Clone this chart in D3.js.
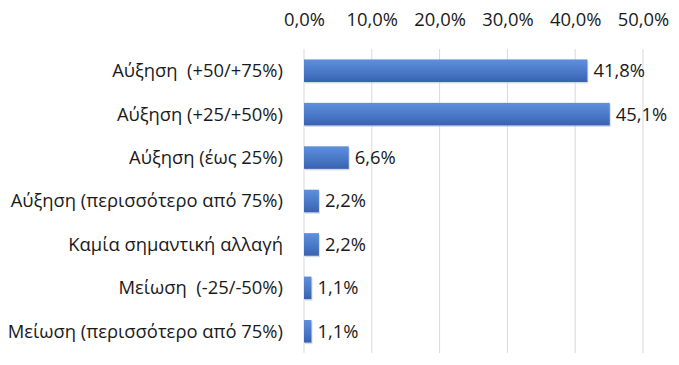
<!DOCTYPE html>
<html>
<head>
<meta charset="utf-8">
<script src="https://cdn.jsdelivr.net/npm/d3@7"></script>
<style>
    body { margin: 0; background: #fff; }
    text { font-family: "Open Sans", "Noto Sans", sans-serif; fill: #1a1a1a; white-space: pre; }
</style>
</head>
<body>
<div id="chart"></div>
<script>
(function() {
    // Data
    var categories = [
        "Αύξηση  (+50/+75%)",
        "Αύξηση (+25/+50%)",
        "Αύξηση (έως 25%)",
        "Αύξηση (περισσότερο από 75%)",
        "Καμία σημαντική αλλαγή",
        "Μείωση  (-25/-50%)",
        "Μείωση (περισσότερο από 75%)"
    ];
    var values = [41.8, 45.1, 6.6, 2.2, 2.2, 1.1, 1.1];
    var tickValues = [0, 10, 20, 30, 40, 50];

    var rows = categories.map(function(c, i) { return { name: c, value: values[i] }; });

    // Constants
    var W = 679, H = 365;
    var margin = { top: 49, left: 304, right: 36, bottom: 12 };
    var width = W - margin.left - margin.right,
        height = H - margin.top - margin.bottom,
        fontSize = 18.4;

    var fmt = function(v) { return v.toFixed(1).replace(".", ",") + "%"; };

    var svg = d3.select("#chart")
        .append("svg")
        .attr("width", W)
        .attr("height", H);

    var defs = svg.append("defs");
    var grad = defs.append("linearGradient")
        .attr("id", "barGrad")
        .attr("x1", 0).attr("y1", 0).attr("x2", 0).attr("y2", 1);
    grad.append("stop").attr("offset", "0%").attr("stop-color", "#5f8fdc");
    grad.append("stop").attr("offset", "55%").attr("stop-color", "#4a78c8");
    grad.append("stop").attr("offset", "100%").attr("stop-color", "#3862b0");

    var g = svg.append("g")
        .attr("transform", "translate(" + margin.left + "," + margin.top + ")");

    // Scales
    var x = d3.scaleLinear().domain([0, 50]).range([0, 339]);
    var y = d3.scaleBand()
        .domain(categories)
        .range([0, height])
        .paddingInner(0.48)
        .paddingOuter(0.24);

    // Gridlines
    g.selectAll(".grid")
        .data(tickValues)
        .enter().append("line")
        .attr("class", "grid")
        .attr("x1", function(d) { return x(d); })
        .attr("x2", function(d) { return x(d); })
        .attr("y1", 0)
        .attr("y2", height)
        .attr("stroke", "#d9d9d9")
        .attr("stroke-width", 1);

    // Top axis
    var xAxis = d3.axisTop(x)
        .tickValues(tickValues)
        .tickSize(0)
        .tickPadding(0)
        .tickFormat(fmt);

    var ax = g.append("g")
        .attr("transform", "translate(0,-29)")
        .call(xAxis);
    ax.select(".domain").remove();
    ax.selectAll("text")
        .attr("font-family", "Open Sans, sans-serif")
        .attr("font-size", fontSize)
        .attr("fill", "#1a1a1a")
        .attr("dy", "0.35em")
        .attr("y", 0);

    // Category labels
    g.selectAll(".cat")
        .data(rows)
        .enter().append("text")
        .attr("class", "cat")
        .attr("x", -21)
        .attr("y", function(d) { return y(d.name) + y.bandwidth() / 2; })
        .attr("dy", "0.35em")
        .attr("text-anchor", "end")
        .attr("font-size", fontSize)
        .text(function(d) { return d.name; });

    // Bars (shadow then bar)
    g.selectAll(".shadow")
        .data(rows)
        .enter().append("rect")
        .attr("class", "shadow")
        .attr("x", 1)
        .attr("y", function(d) { return y(d.name) + 1.5; })
        .attr("width", function(d) { return x(d.value); })
        .attr("height", y.bandwidth())
        .attr("fill", "#b8c4d8")
        .attr("opacity", 0.6);

    g.selectAll(".bar")
        .data(rows)
        .enter().append("rect")
        .attr("class", "bar")
        .attr("x", 0)
        .attr("y", function(d) { return y(d.name); })
        .attr("width", function(d) { return x(d.value); })
        .attr("height", y.bandwidth())
        .attr("fill", "url(#barGrad)");

    // Value labels
    g.selectAll(".val")
        .data(rows)
        .enter().append("text")
        .attr("class", "val")
        .attr("x", function(d) { return x(d.value) + 6; })
        .attr("y", function(d) { return y(d.name) + y.bandwidth() / 2; })
        .attr("dy", "0.35em")
        .attr("font-size", fontSize)
        .text(function(d) { return fmt(d.value); });
})();
</script>
</body>
</html>
